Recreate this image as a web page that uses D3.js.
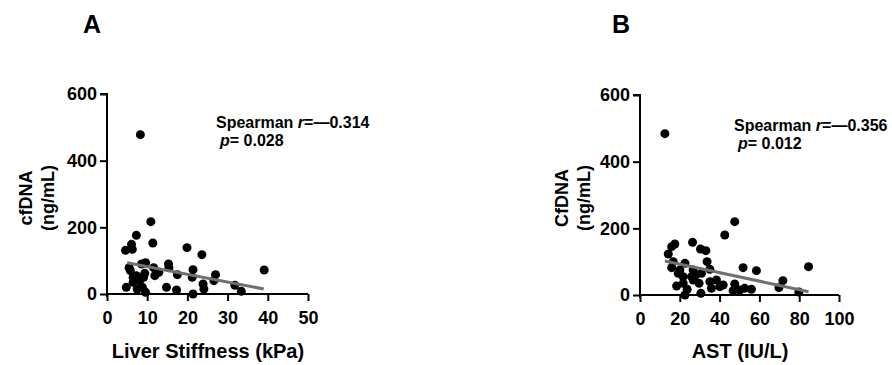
<!DOCTYPE html>
<html><head><meta charset="utf-8">
<script src="https://cdn.jsdelivr.net/npm/d3@7"></script>
<style>
body{margin:0;background:#fff;}
svg{display:block;font-family:"Liberation Sans",Arial,sans-serif;}
</style></head>
<body><svg id="c" width="892" height="365"></svg>
<script>
// Panel A: Liver stiffness (kPa) vs cfDNA (ng/mL)
const stiffX = [8.3,10.9,7.3,11.4,6.1,4.6,6.3,19.9,23.6,39.1,9.6,8.6,5.5,5.8,11.6,12.9,11.9,15.3,15.4,17.5,21.4,21.2,27,26.6,23.9,24.1,31.8,33.4,21.4,14.8,17.3,4.8,6.5,8.1,9.1,7.3,9.4,8.8,9.6,7.5,6.5];
const stiffY = [478,217,176,153,149,131,134,139,118,72,94,90,79,70,79,65,55,90,79,58,73,50,58,40,30,15,26,8,0,20,12,20,35,40,50,55,62,20,5,15,50];
const stiffFitX = [5,39];
const stiffFitY = [94,15];
// Panel B: AST (IU/L) vs cfDNA (ng/mL)
const astX = [12.5,47.6,42.6,26.4,17.5,15.9,30.4,33.1,14.2,33.7,22.6,15.9,26.7,35.1,51.8,58.5,84.7,19.2,21.7,25.9,30.9,38.4,35.1,29.7,18.4,23.7,22.6,30.6,35.9,40.1,41.8,47.6,46.8,50.1,52.6,56,71.8,69.8,79.8,21.7,26.7,16.7,20,28];
const astY = [484,220,180,158,153,145,138,133,123,100,95,82,75,77,82,73,85,65,55,55,65,45,40,35,27,17,0,5,20,25,30,33,13,15,20,17,43,22,9,35,45,100,75,60];
const astFitX = [12.5,84.7];
const astFitY = [102,10];
const yTicks = [0,200,400,600];
const xTicksA = [0,10,20,30,40,50];
const xTicksB = [0,20,40,60,80,100];

const svg = d3.select("#c");

function panel(o){
  const g = svg.append("g");
  const x = d3.scaleLinear().domain(o.xdom).range(o.xr);
  const y = d3.scaleLinear().domain([0,600]).range(o.yr);
  const yAx = g.append("g").attr("transform",`translate(${o.xr[0]},0)`)
    .call(d3.axisLeft(y).tickValues(yTicks).tickSize(7).tickPadding(3).tickFormat(d3.format("d")));
  const xAx = g.append("g").attr("transform",`translate(0,${o.yr[0]})`)
    .call(d3.axisBottom(x).tickValues(o.xticks).tickSize(7).tickPadding(10).tickFormat(d3.format("d")));
  [yAx,xAx].forEach(a=>{
    a.select(".domain").attr("stroke","#000").attr("stroke-width",2);
    a.selectAll(".tick line").attr("stroke","#000").attr("stroke-width",2);
    a.selectAll(".tick text").attr("fill","#000").attr("font-size",18).attr("font-weight","bold")
      .attr("font-family","'Liberation Sans',Arial,sans-serif");
  });
  yAx.select(".domain").attr("d",`M-7,${o.yr[1]}H0V${o.yr[0]+3}`);
  xAx.select(".domain").attr("d",`M${o.xr[0]},0H${o.xr[1]}`);
  // points
  g.append("g").selectAll("circle").data(o.px.map((v,i)=>[v,o.py[i]])).join("circle")
    .attr("cx",d=>x(d[0])).attr("cy",d=>y(d[1])).attr("r",4.5).attr("fill","#000");
  // fit line
  g.append("line").attr("x1",x(o.fx[0])).attr("y1",y(o.fy[0])).attr("x2",x(o.fx[1])).attr("y2",y(o.fy[1]))
    .attr("stroke","#707070").attr("stroke-width",3);
  // panel letter
  g.append("text").attr("x",o.lx).attr("y",33).attr("font-size",25).attr("font-weight","bold").text(o.letter);
  // y title
  const yt = g.append("text").attr("transform",`translate(${o.ytx},198) rotate(-90)`)
    .attr("text-anchor","middle").attr("font-size",18).attr("font-weight","bold");
  yt.append("tspan").attr("x",0).attr("dy",0).text(o.ytitle);
  yt.append("tspan").attr("x",0).attr("dy",22).text("(ng/mL)");
  // x title
  g.append("text").attr("x",o.xtx).attr("y",358).attr("text-anchor","middle").attr("font-size",20)
    .attr("font-weight","bold").text(o.xtitle);
  // stats
  const s1 = g.append("text").attr("x",o.sx).attr("y",o.sy).attr("font-size",16).attr("font-weight","bold");
  s1.append("tspan").text("Spearman ");
  s1.append("tspan").attr("font-style","italic").text("r");
  s1.append("tspan").text("=\u20140." + o.r);
  const s2 = g.append("text").attr("x",o.sx+4).attr("y",o.sy+18).attr("font-size",16).attr("font-weight","bold");
  s2.append("tspan").attr("font-style","italic").text("p");
  s2.append("tspan").text("= " + o.p);
}

panel({xdom:[0,50],xr:[107,308],yr:[294,94],xticks:xTicksA,px:stiffX,py:stiffY,fx:stiffFitX,fy:stiffFitY,
  letter:"A",lx:83,ytitle:"cfDNA",ytx:32,xtitle:"Liver Stiffness (kPa)",xtx:208,sx:216,sy:128,r:"314",p:"0.028"});
panel({xdom:[0,100],xr:[640,839],yr:[295,95],xticks:xTicksB,px:astX,py:astY,fx:astFitX,fy:astFitY,
  letter:"B",lx:612,ytitle:"CfDNA",ytx:568,xtitle:"AST (IU/L)",xtx:740,sx:734,sy:131,r:"356",p:"0.012"});
</script></body></html>
